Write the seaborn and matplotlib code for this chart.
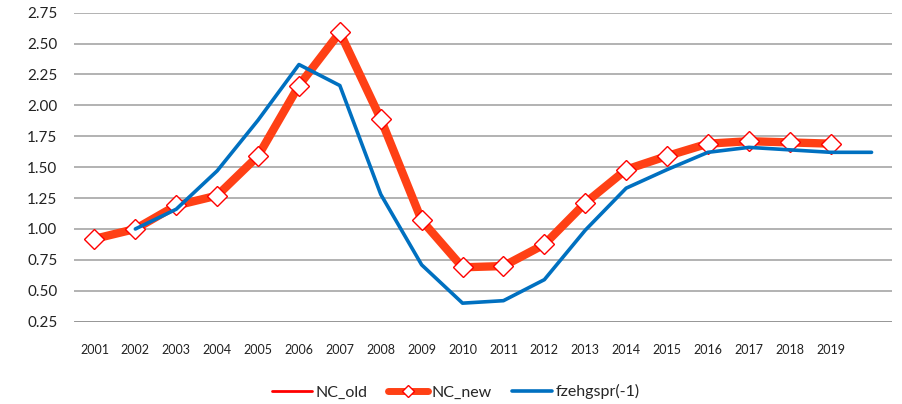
import numpy as np
import pandas as pd
import matplotlib
matplotlib.use("Agg")
import matplotlib.pyplot as plt
from matplotlib.lines import Line2D
import seaborn as sns

# ---- data ----
years = ["2001", "2002", "2003", "2004", "2005", "2006", "2007", "2008", "2009", "2010",
         "2011", "2012", "2013", "2014", "2015", "2016", "2017", "2018", "2019", ""]
nc_old = [0.92, 1.00, 1.19, 1.27, 1.59, 2.16, 2.59, 1.89, 1.07, 0.69,
          0.70, 0.875, 1.21, 1.48, 1.59, 1.69, 1.71, 1.70, 1.69, np.nan]
nc_new = [0.92, 1.00, 1.19, 1.27, 1.59, 2.16, 2.59, 1.89, 1.07, 0.69,
          0.70, 0.875, 1.21, 1.48, 1.59, 1.69, 1.71, 1.70, 1.69, np.nan]
fzehgspr = [np.nan, 1.00, 1.16, 1.47, 1.88, 2.33, 2.16, 1.28, 0.71, 0.40,
            0.42, 0.59, 0.99, 1.33, 1.48, 1.62, 1.66, 1.64, 1.62, 1.62]
yticks = [0.25, 0.50, 0.75, 1.00, 1.25, 1.50, 1.75, 2.00, 2.25, 2.50, 2.75]

sns.set_style("white")
plt.rcParams["font.family"] = ["Lato", "DejaVu Sans"]

df = pd.DataFrame({"x": np.arange(len(years)), "NC_old": nc_old,
                   "NC_new": nc_new, "fzehgspr(-1)": fzehgspr})

fig = plt.figure(figsize=(9.03, 4.04), dpi=100)
ax = fig.add_axes([74 / 903, 1 - 321.7 / 404, (892 - 74) / 903, (321.7 - 12.6) / 404])

c_old = "#FF0000"
c_new = "#FF4015"
c_blue = "#0070C0"

sns.lineplot(data=df, x="x", y="NC_old", ax=ax, color=c_old, linewidth=2, zorder=3)
sns.lineplot(data=df, x="x", y="NC_new", ax=ax, color=c_new, linewidth=6, zorder=4,
             marker="D", markersize=10, markerfacecolor="white",
             markeredgecolor=c_old, markeredgewidth=1.0)
sns.lineplot(data=df, x="x", y="fzehgspr(-1)", ax=ax, color=c_blue, linewidth=2.6, zorder=5)

ax.set_xlim(-0.5, len(years) - 0.5)
ax.set_ylim(0.25, 2.75)
ax.set_xticks(np.arange(len(years)))
ax.set_xticklabels(years, fontsize=9, color="#222222")
ax.set_yticks(yticks)
ax.set_yticklabels([f"{v:.2f}" for v in yticks], fontsize=11, color="#222222")
ax.tick_params(axis="both", length=0)
ax.tick_params(axis="x", pad=16)
ax.tick_params(axis="y", pad=12)
ax.set_xlabel("")
ax.set_ylabel("")

for v in yticks:
    if v == 0.25:
        ax.axhline(v, color="#8C8C8C", linewidth=2.0, zorder=1)
    else:
        ax.axhline(v, color="#A6A6A6", linewidth=1.2, zorder=1)
for s in ax.spines.values():
    s.set_visible(False)

handles = [
    Line2D([], [], color=c_old, linewidth=2),
    Line2D([], [], color=c_new, linewidth=5, marker="D", markersize=6,
           markerfacecolor="white", markeredgecolor=c_old, markeredgewidth=1.0),
    Line2D([], [], color=c_blue, linewidth=2.6),
]
fig.legend(handles, ["NC_old", "NC_new", "fzehgspr(-1)"], loc="center",
           bbox_to_anchor=(0.505, 0.03), ncol=3, frameon=False, fontsize=11.5,
           handlelength=2.5, handletextpad=0.2, columnspacing=1.3)

fig.savefig("out.png", dpi=100)
